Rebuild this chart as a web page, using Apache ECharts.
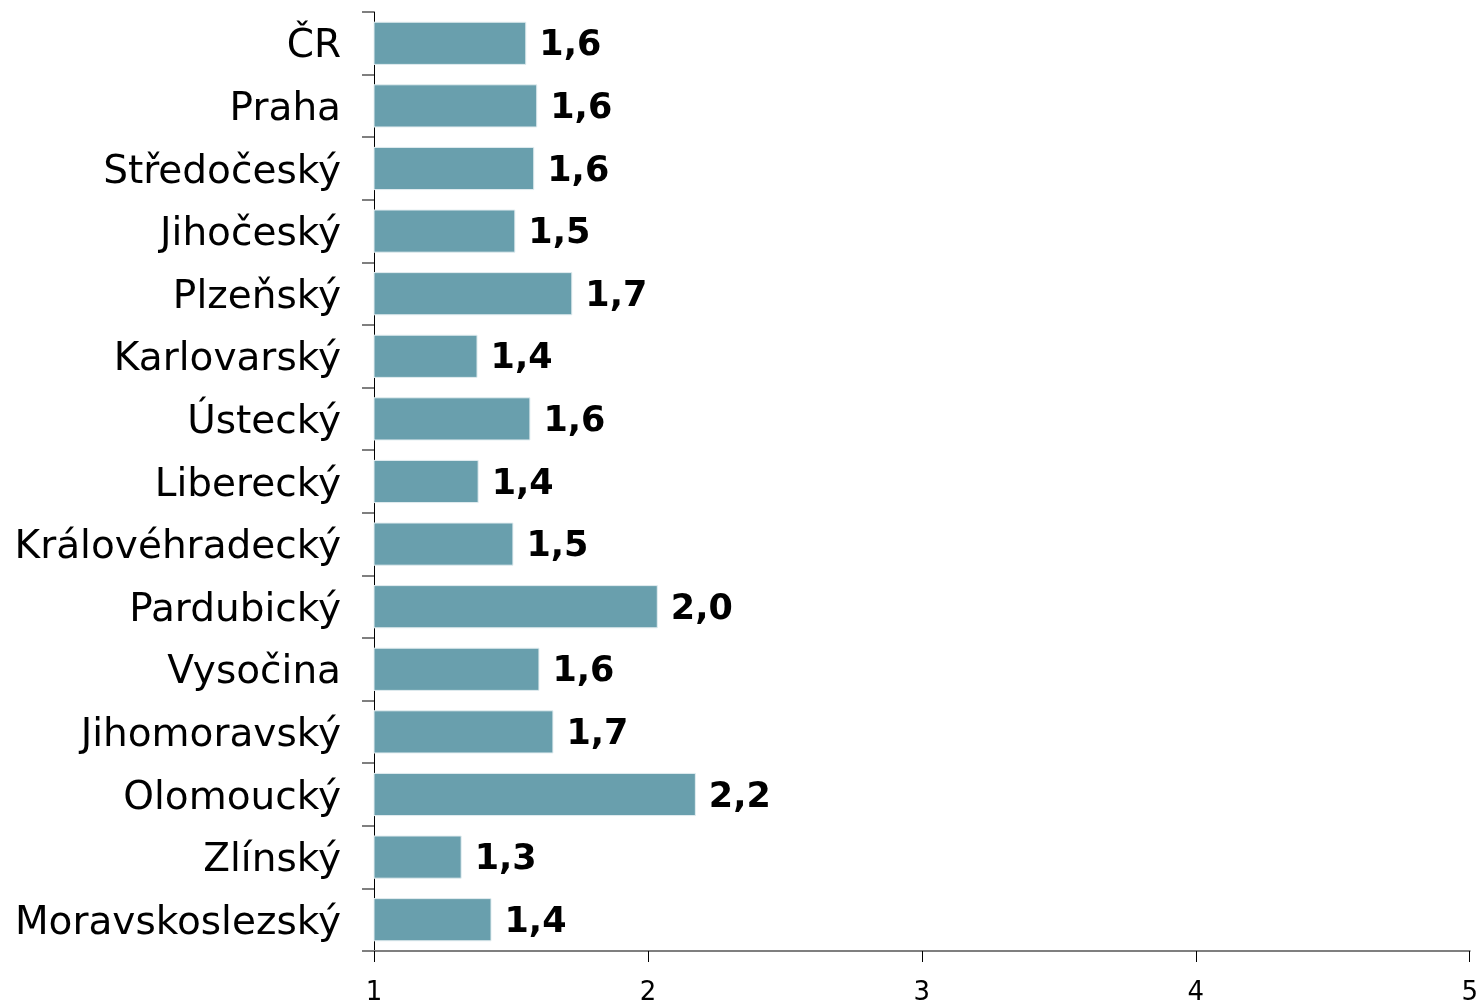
<!DOCTYPE html>
<html>
<head>
<meta charset="utf-8">
<script src="https://cdn.jsdelivr.net/npm/echarts@6/dist/echarts.min.js"></script>
<style>
  html, body { margin: 0; padding: 0; background: #fff; }
  #chart { width: 1481px; height: 1006px; }
</style>
</head>
<body>
<div id="chart"></div>
<script>
// Regions of the Czech Republic, top to bottom
const regions = [
  'ČR', 'Praha', 'Středočeský', 'Jihočeský', 'Plzeňský', 'Karlovarský',
  'Ústecký', 'Liberecký', 'Královéhradecký', 'Pardubický', 'Vysočina',
  'Jihomoravský', 'Olomoucký', 'Zlínský', 'Moravskoslezský'
];
const values = [
  1.556, 1.596, 1.585, 1.516, 1.724, 1.378,
  1.571, 1.382, 1.509, 2.036, 1.604,
  1.655, 2.175, 1.32, 1.429
];
const axisTicks = [1, 2, 3, 4, 5];

const chart = echarts.init(document.getElementById('chart'), null, { renderer: 'canvas' });

chart.setOption({
  animation: false,
  grid: { left: 374, right: 7, top: 12, bottom: 53, containLabel: false },
  xAxis: {
    type: 'value',
    min: axisTicks[0],
    max: axisTicks[axisTicks.length - 1],
    interval: 1,
    splitLine: { show: false },
    axisLine: { show: true, lineStyle: { color: '#7f7f7f', width: 2 } },
    axisTick: { show: true, length: 11, lineStyle: { color: '#000', width: 1 } },
    axisLabel: {
      margin: 29,
      fontFamily: 'DejaVu Sans',
      fontSize: 26,
      color: '#000'
    }
  },
  yAxis: {
    type: 'category',
    data: regions,
    inverse: true,
    axisLine: { show: true, lineStyle: { color: '#000', width: 1 } },
    axisTick: { show: true, length: 12, lineStyle: { color: '#7f7f7f', width: 2 } },
    axisLabel: {
      margin: 33,
      formatter: v => '{name|' + v + '}',
      rich: {
        name: {
          fontFamily: 'DejaVu Sans',
          fontSize: 39,
          color: '#000',
          padding: [8, 0, 0, 0]
        }
      }
    }
  },
  series: [{
    type: 'bar',
    data: values,
    barCategoryGap: '31%',
    clip: true,
    itemStyle: { color: '#699fad', borderColor: '#e4eef1', borderWidth: 1 },
    label: {
      show: true,
      position: 'right',
      distance: 13,
      offset: [0, 3],
      fontFamily: 'DejaVu Sans',
      fontWeight: 'bold',
      fontSize: 35,
      color: '#000',
      formatter: p => p.value.toFixed(1).replace('.', ',')
    }
  }]
});
</script>
</body>
</html>
